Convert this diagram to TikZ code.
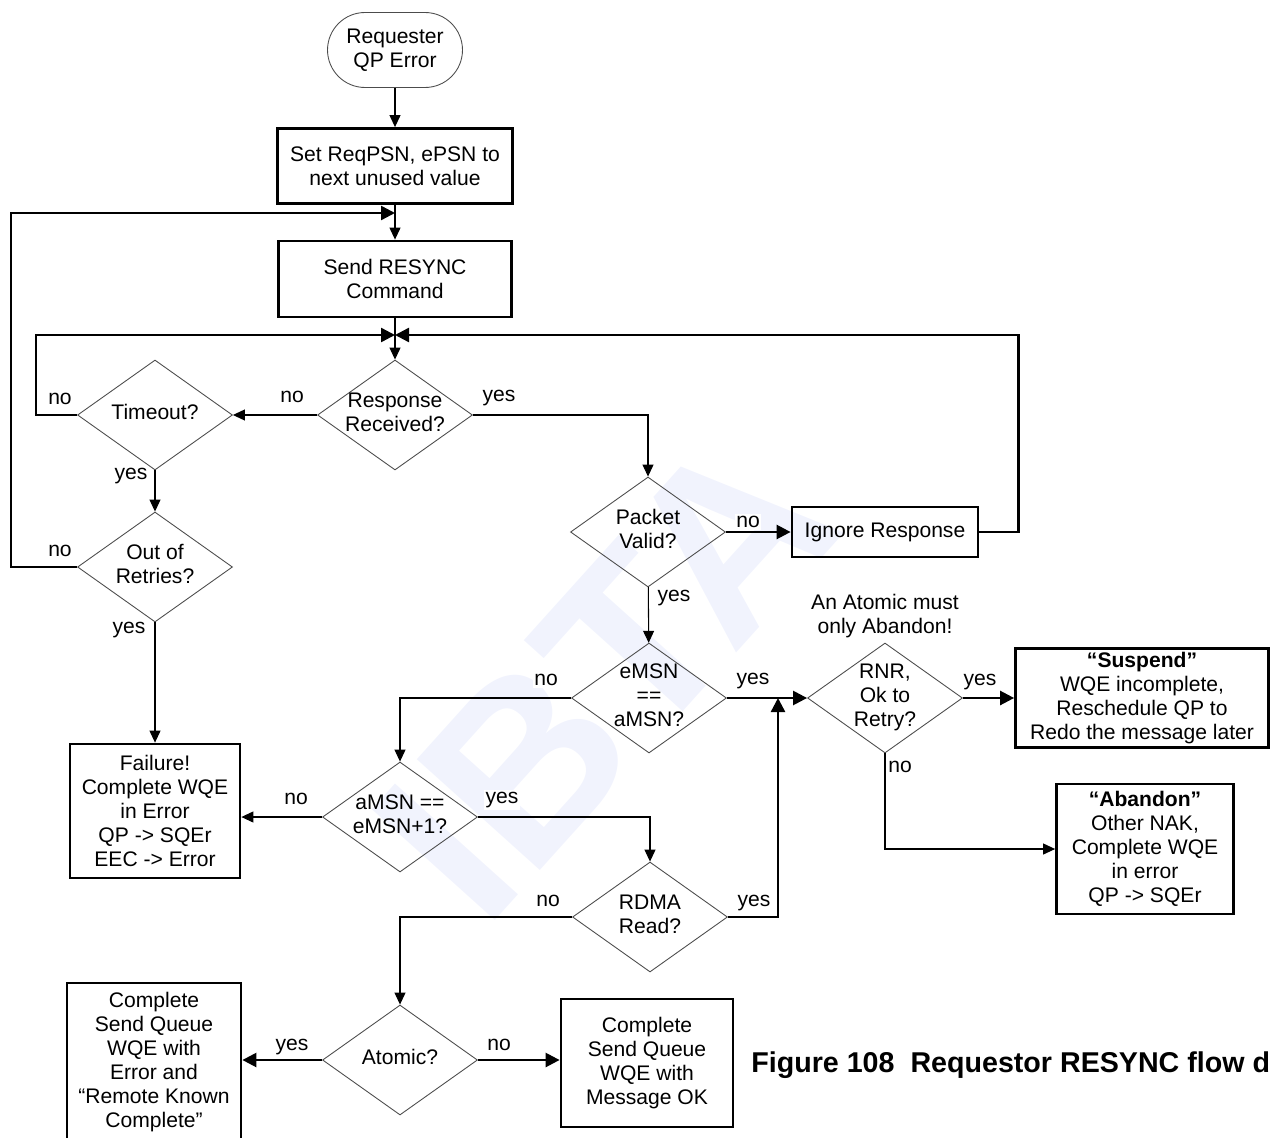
\documentclass[tikz,border=0pt]{standalone}
\usepackage{fontspec}
\setmainfont{Liberation Sans}
\usetikzlibrary{arrows.meta,positioning,shapes.geometric}
\definecolor{wmblue}{RGB}{241,243,253}
\newcommand{\dtext}[1]{\makebox[0pt]{\begin{tabular}{@{}c@{}}#1\end{tabular}}}
\tikzset{
  box/.style={draw,line width=1.6pt,align=center,inner sep=2pt},
  term/.style={draw=black!70,line width=0.5pt,rounded corners=0.75cm,align=center,minimum width=2.7cm,minimum height=1.5cm},
  dec/.style={diamond,draw=black!70,line width=0.5pt,inner sep=0pt,minimum width=3.1cm,minimum height=2.2cm},
  lbl/.style={fill=white,inner sep=1pt},
  conn/.style={line width=0.6pt,-{Triangle[length=2.4mm,width=2.2mm]}},
  connb/.style={line width=1.4pt,-{Triangle[length=2.8mm,width=2.8mm]}},
}

\begin{document}
\begin{tikzpicture}[x=0.02cm,y=-0.02cm,font=\fontsize{12}{13.6}\selectfont]
\useasboundingbox (0,0) rectangle (1270,1138);
\clip (0,0) rectangle (1270,1138);
% watermark
\node[text=wmblue,font=\fontsize{137}{140}\selectfont\bfseries,rotate=48] (wm) at (605,675) {IBTA};

% left column
\node[term] (start) at (395,50) {Requester\\QP Error};
\node[box,minimum width=4.7cm,minimum height=1.5cm] (setpsn) at (395,166) {Set ReqPSN, ePSN to\\next unused value};
\node[box,minimum width=4.66cm,minimum height=1.52cm] (resync) at (395,279) {Send RESYNC\\Command};
\node[dec] (resp) at (395,415) {\dtext{Response\\Received?}};
\node[dec] (timeout) at (155,415) {\dtext{Timeout?}};
\node[dec] (retry) at (155,567) {\dtext{Out of\\Retries?}};
\node[box,minimum width=3.4cm,minimum height=2.68cm] (failure) at (155,811) {Failure!\\Complete WQE\\in Error\\QP -> SQEr\\EEC -> Error};
\coordinate (j1) at (395,213);
\coordinate (j2) at (395,335);

% right part
\node[dec] (valid) at (648,532) {\dtext{Packet\\Valid?}};
\node[box,minimum width=3.72cm,minimum height=1cm] (ignore) at (885,532) {Ignore Response};
\node[dec] (emsn) at (649,698) {\dtext{eMSN\\==\\aMSN?}};
\node[dec] (rnr) at (885,698) {\dtext{RNR,\\Ok to\\Retry?}};
\node[align=center,above=-1pt of rnr] (atomnote) {An Atomic must\\only Abandon!};
\node[box,minimum width=5.06cm,minimum height=1.94cm] (suspend) at (1142,698) {\textbf{``Suspend''}\\WQE incomplete,\\Reschedule QP to\\Redo the message later};
\node[box,minimum width=3.54cm,minimum height=2.6cm] (abandon) at (1145,849) {\textbf{``Abandon''}\\Other NAK,\\Complete WQE\\in error\\QP -> SQEr};
\coordinate (merge) at (778,698);

% lower part
\node[dec] (amsn) at (400,817) {\dtext{aMSN ==\\eMSN+1?}};
\node[dec] (rdma) at (650,917) {\dtext{RDMA\\Read?}};
\node[dec] (atomic) at (400,1060) {\dtext{Atomic?}};
\node[box,minimum width=3.48cm,minimum height=3.16cm] (cerr) at (154,1062) {Complete\\Send Queue\\WQE with\\Error and\\``Remote Known\\Complete''};
\node[box,minimum width=3.44cm,minimum height=2.56cm] (cok) at (647,1063) {Complete\\Send Queue\\WQE with\\Message OK};
\node[anchor=base west,inner sep=0pt,font=\fontsize{16.3}{19}\selectfont\bfseries] (caption) at (751,1072) {Figure 108~~Requestor RESYNC flow diagram};

% connectors
\draw[conn] (start) -- (setpsn);
\draw[conn] (setpsn) -- (resync);
\draw[conn] (resync) -- (resp);
\draw[conn] (resp) -- (timeout);
\draw[connb] (timeout.west) -- ++(-41,0) |- (j2);
\draw[conn] (timeout) -- (retry);
\draw[connb] (retry.west) -- ++(-66,0) |- (j1);
\draw[conn] (retry) -- (failure);
\draw[conn] (resp.east) -| (valid.north);
\draw[connb] (valid) -- (ignore);
\draw[connb] (ignore.east) -- ++(39,0) |- (j2);
\draw[conn] (valid) -- (emsn);
\draw[connb] (emsn) -- (rnr);
\draw[connb] (rnr) -- (suspend);
\draw[conn] (rnr.south) |- (abandon.west);
\draw[conn] (emsn.west) -| (amsn.north);
\draw[conn] (amsn.west) -- (amsn.west -| failure.east);
\draw[conn] (amsn.east) -| (rdma.north);
\draw[connb] (rdma.east) -| (merge);
\draw[conn] (rdma.west) -| (atomic.north);
\draw[connb] (atomic.west) -- (atomic.west -| cerr.east);
\draw[connb] (atomic.east) -- (atomic.east -| cok.west);

% labels
\node[lbl] (no1) at (292,397) {no};
\node[lbl] (no2) at (60,399) {no};
\node[lbl] (yes1) at (131,476) {yes};
\node[lbl] (no3) at (60,551) {no};
\node[lbl] (yes2) at (129,630) {yes};
\node[lbl] (yes3) at (499,398) {yes};
\node[lbl] (no4) at (748,522) {no};
\node[lbl] (yes4) at (674,598) {yes};
\node[lbl] (yes5) at (753,681) {yes};
\node[lbl] (no5) at (546,680) {no};
\node[lbl] (yes6) at (980,682) {yes};
\node[lbl] (no6) at (900,767) {no};
\node[lbl] (no7) at (296,799) {no};
\node[lbl] (yes7) at (502,800) {yes};
\node[lbl] (no8) at (548,901) {no};
\node[lbl] (yes8) at (754,903) {yes};
\node[lbl] (yes9) at (292,1047) {yes};
\node[lbl] (no9) at (499,1045) {no};
\end{tikzpicture}
\end{document}
